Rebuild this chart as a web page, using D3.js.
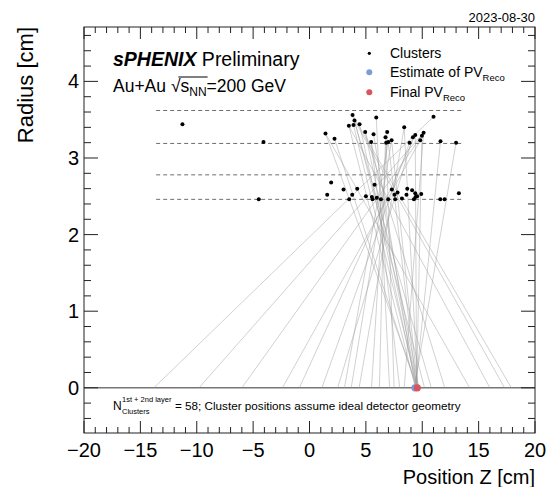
<!DOCTYPE html>
<html>
<head>
<meta charset="utf-8">
<script src="https://cdn.jsdelivr.net/npm/d3@7"></script>
<style>
  body { margin: 0; background: #fff; }
  text { font-family: "Liberation Sans", Arial, Helvetica, sans-serif; fill: #000; }
</style>
</head>
<body>
<div id="chart"></div>
<script>
// cluster positions (z, r) in cm
const clusterZ = [-11.27, -4.08, -4.5, 1.42, 2.22, 1.92, 1.57, 3.82, 3.99, 3.49, 3.9, 4.44, 5.92, 4.94, 5.68, 5.47,
  6.74, 6.89, 6.8, 6.98, 7.28, 8.4, 8.87, 9.17, 9.38, 9.82, 9.97, 10.12, 11.0, 11.62, 13.0,
  3.02, 3.79, 4.23, 3.52, 5.0, 5.77, 5.53, 5.59, 5.97, 6.33, 6.98, 7.3, 7.54, 7.6, 7.81, 8.67, 8.6,
  9.26, 9.38, 9.4, 9.91, 11.6, 11.98, 13.25, 9.1, 9.55, 8.2];
const clusterR = [3.44, 3.21, 2.46, 3.32, 3.25, 2.68, 2.52, 3.56, 3.49, 3.42, 3.43, 3.44, 3.53, 3.34, 3.31, 3.21,
  3.27, 3.34, 3.2, 3.21, 3.23, 3.40, 3.20, 3.27, 3.30, 3.23, 3.29, 3.33, 3.54, 3.22, 3.20,
  2.59, 2.52, 2.60, 2.46, 2.50, 2.65, 2.49, 2.46, 2.48, 2.46, 2.46, 2.59, 2.52, 2.46, 2.55, 2.60, 2.52,
  2.46, 2.54, 2.49, 2.53, 2.46, 2.46, 2.54, 2.58, 2.50, 2.47];

// tracklets: outer cluster (z, r) extrapolated to r = 0 at z0
const trackZTop = [11.0, 10.12, 9.97, 9.82, 9.38, 8.87, 9.17, 6.98, 7.28, 8.4, 6.89, 6.74, 5.92, 6.8, 5.47, 10.12,
  13.0, 11.62, 9.97, 9.38, 8.4, 6.98, 5.68, 4.94, 4.44, 3.9, 3.49, 1.42, 2.22, 3.99, 3.82, 4.94, 1.42, 3.49, 3.99, 3.82, 5.47, 7.28];
const trackRTop = [3.54, 3.33, 3.29, 3.23, 3.30, 3.20, 3.27, 3.21, 3.23, 3.40, 3.34, 3.27, 3.53, 3.2, 3.21, 3.33,
  3.20, 3.22, 3.29, 3.30, 3.40, 3.21, 3.31, 3.34, 3.44, 3.43, 3.42, 3.32, 3.25, 3.49, 3.56, 3.34, 3.32, 3.42, 3.49, 3.56, 3.21, 3.23];
const trackZ0 = [-13.8, -9.8, -6.0, -2.4, -0.9, 1.1, 2.5, 3.1, 3.7, 4.4, 5.5, 6.2, 7.1, 7.5, 8.0, 8.4,
  9.3, 9.4, 9.5, 9.5, 9.6, 9.5, 9.4, 9.6, 9.5, 9.6, 9.4, 9.6, 9.5, 10.2, 10.8, 12.0, 14.2, 16.0, 17.3, 17.9, 9.7, 9.6];

const layerRadii = [2.46, 2.78, 3.19, 3.62];
const layerHalfLength = 13.6;

const pvEstimateZ = 9.35;
const pvFinalZ = 9.56;

const xTicks = [-20, -15, -10, -5, 0, 5, 10, 15, 20];
const yTicks = [0, 1, 2, 3, 4];

const width = 551, height = 487;
const margin = { left: 84, right: 16, top: 27, bottom: 54 };

const svg = d3.select('#chart').append('svg')
  .attr('width', width)
  .attr('height', height);

const x = d3.scaleLinear().domain([-20, 20]).range([margin.left, width - margin.right]);
const y = d3.scaleLinear().domain([-0.59, 4.71]).range([height - margin.bottom, margin.top]);

const x0 = x.range()[0], x1 = x.range()[1];
const yb = y.range()[0], yt = y.range()[1];

// layer guides
svg.selectAll('.layer')
  .data(layerRadii)
  .enter().append('line')
  .attr('x1', x(-layerHalfLength)).attr('x2', x(layerHalfLength))
  .attr('y1', d => y(d)).attr('y2', d => y(d))
  .attr('stroke', '#6e6e6e')
  .attr('stroke-width', 1)
  .attr('stroke-dasharray', '4,3');

// r = 0 line
svg.append('line')
  .attr('x1', x0).attr('x2', x1)
  .attr('y1', y(0)).attr('y2', y(0))
  .attr('stroke', '#777').attr('stroke-width', 1.6);

// tracklets
svg.append('g').selectAll('line')
  .data(d3.range(trackZ0.length))
  .enter().append('line')
  .attr('x1', i => x(trackZTop[i])).attr('y1', i => y(trackRTop[i]))
  .attr('x2', i => x(trackZ0[i])).attr('y2', y(0))
  .attr('stroke', '#9a9a9a')
  .attr('stroke-opacity', 0.45)
  .attr('stroke-width', 1);

// clusters
svg.append('g').selectAll('circle')
  .data(d3.range(clusterZ.length))
  .enter().append('circle')
  .attr('cx', i => x(clusterZ[i])).attr('cy', i => y(clusterR[i]))
  .attr('r', 2).attr('fill', '#000');

// vertices
svg.append('circle').attr('cx', x(pvEstimateZ)).attr('cy', y(0)).attr('r', 3.6).attr('fill', '#7d9bd6');
svg.append('circle').attr('cx', x(pvFinalZ)).attr('cy', y(0)).attr('r', 3.6).attr('fill', '#d8555f');

// frame and ticks
const axisColor = '#222';
svg.append('rect')
  .attr('x', x0).attr('y', yt).attr('width', x1 - x0).attr('height', yb - yt)
  .attr('fill', 'none').attr('stroke', axisColor).attr('stroke-width', 1);

const xMinor = d3.range(-19, 20, 1).filter(v => v % 5 !== 0);
const yMinor = d3.range(-0.4, 4.7, 0.2).filter(v => Math.abs(v - Math.round(v)) > 0.01);

const ticks = svg.append('g').attr('stroke', axisColor).attr('stroke-width', 1);
xTicks.concat(xMinor).forEach(v => {
  const len = xTicks.includes(v) ? 12 : 6;
  ticks.append('line').attr('x1', x(v)).attr('x2', x(v)).attr('y1', yb).attr('y2', yb - len);
  ticks.append('line').attr('x1', x(v)).attr('x2', x(v)).attr('y1', yt).attr('y2', yt + len);
});
yTicks.concat(yMinor).forEach(v => {
  const len = yTicks.includes(v) ? 14 : 7;
  ticks.append('line').attr('y1', y(v)).attr('y2', y(v)).attr('x1', x0).attr('x2', x0 + len);
  ticks.append('line').attr('y1', y(v)).attr('y2', y(v)).attr('x1', x1).attr('x2', x1 - len);
});

// tick labels
svg.selectAll('.xlab')
  .data(xTicks)
  .enter().append('text')
  .attr('x', d => x(d)).attr('y', yb + 24)
  .attr('text-anchor', 'middle')
  .style('font-size', '20px')
  .text(d => d < 0 ? '\u2212' + Math.abs(d) : d);

svg.selectAll('.ylab')
  .data(yTicks)
  .enter().append('text')
  .attr('x', x0 - 5).attr('y', d => y(d) + 7)
  .attr('text-anchor', 'end')
  .style('font-size', '20px')
  .text(d => d);

// axis titles
svg.append('text')
  .attr('x', x1).attr('y', 484)
  .attr('text-anchor', 'end')
  .style('font-size', '20px')
  .text('Position Z [cm]');

svg.append('text')
  .attr('transform', `translate(33,${yt}) rotate(-90)`)
  .attr('text-anchor', 'end')
  .style('font-size', '22px')
  .text('Radius [cm]');

// date
svg.append('text')
  .attr('x', x1).attr('y', 22)
  .attr('text-anchor', 'end')
  .style('font-size', '13px')
  .text('2023-08-30');

// sPHENIX label
const lab = svg.append('text').attr('x', 113).attr('y', 66).style('font-size', '19.5px');
lab.append('tspan').style('font-weight', 'bold').style('font-style', 'italic').text('sPHENIX');
lab.append('tspan').text(' Preliminary');

// Au+Au sqrt(s_NN)
const l2y = 91.5;
const l2 = svg.append('text').attr('x', 113).attr('y', l2y).style('font-size', '17.5px');
l2.append('tspan').text('Au+Au ');
l2.append('tspan').text('\u221A');
l2.append('tspan').text('s');
l2.append('tspan').attr('dy', 4).style('font-size', '12px').text('NN');
l2.append('tspan').attr('dy', -4).text('=200 GeV');
{
  const node = l2.node();
  const start = node.getStartPositionOfChar(6);
  const endS = node.getEndPositionOfChar(9);
  svg.append('line')
    .attr('x1', start.x + 7.5).attr('x2', endS.x + 1)
    .attr('y1', l2y - 14.5).attr('y2', l2y - 14.5)
    .attr('stroke', '#000').attr('stroke-width', 1);
}

// legend
const legendY = [53.3, 72.3, 92.3];
const legendColors = ['#000', '#7d9bd6', '#d8555f'];
const legendR = [1.6, 3, 3];
legendY.forEach((ly, i) => {
  svg.append('circle').attr('cx', 369.3).attr('cy', ly).attr('r', legendR[i]).attr('fill', legendColors[i]);
});
svg.append('text').attr('x', 390).attr('y', 57.5).style('font-size', '14px').text('Clusters');
[['Estimate of PV', 76.5], ['Final PV', 96.5]].forEach(([t, ly]) => {
  const tx = svg.append('text').attr('x', 390).attr('y', ly).style('font-size', '14px');
  tx.append('tspan').text(t);
  tx.append('tspan').attr('dy', 4).style('font-size', '9.5px').text('Reco');
});

// bottom annotation
svg.append('text').attr('x', 113).attr('y', 410).style('font-size', '12px').text('N');
svg.append('text').attr('x', 122).attr('y', 414).style('font-size', '7.5px').text('Clusters');
svg.append('text').attr('x', 122).attr('y', 402).style('font-size', '7.5px').text('1st + 2nd layer');
svg.append('text').attr('x', 175).attr('y', 410).style('font-size', '11.7px')
  .text('= 58; Cluster positions assume ideal detector geometry');
</script>
</body>
</html>
